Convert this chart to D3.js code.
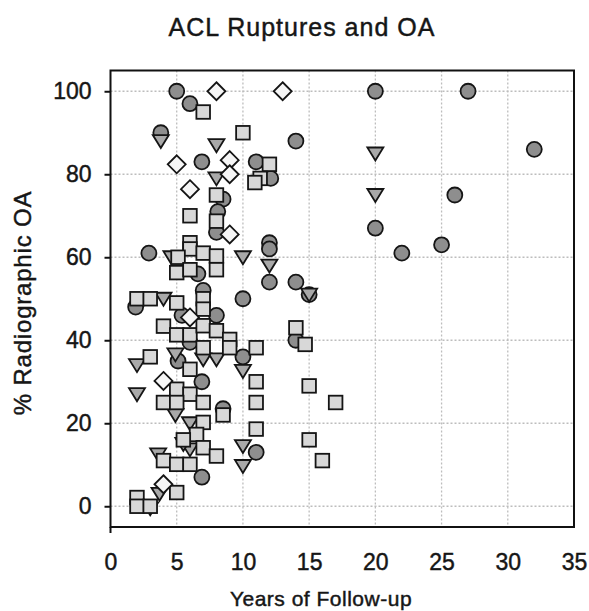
<!DOCTYPE html>
<html>
<head>
<meta charset="utf-8">
<script src="https://cdn.jsdelivr.net/npm/d3@7"></script>
<style>
  body { margin: 0; background: #fff; }
  text { font-family: "Liberation Sans", Arial, sans-serif; fill: #161616; stroke: #161616; stroke-width: 0.45px; }
</style>
</head>
<body>
<svg id="chart" width="589" height="611"></svg>
<script>
var width = 589
var height = 611

var xTicks = [0, 5, 10, 15, 20, 25, 30, 35]
var yTicks = [0, 20, 40, 60, 80, 100]

// [years of follow-up, % radiographic OA]
var circles = [
    [5, 100], [6, 97], [3.8, 90], [6.9, 83], [11, 83], [12.1, 79], [8.5, 74], [8.1, 71], [8, 66],
    [14, 88], [20, 100], [27, 100], [32, 86], [26, 75], [20, 67], [22, 61], [25, 63], [14, 54],
    [15, 51], [2.9, 61], [12, 63.5], [12, 62], [12, 54], [10, 50], [14, 40], [10, 36], [11, 13],
    [8.5, 23.5], [6.9, 30], [6.9, 7], [8, 46], [6.6, 56], [5.4, 46], [1.9, 48], [5.1, 35],
    [6, 39.5], [7, 52]
]
var triangles = [
    [3.8, 88], [8, 87], [8, 79], [12, 58], [10, 60], [20, 85], [20, 75], [15, 51], [4, 50],
    [4.6, 60], [2, 34], [2, 27], [4.9, 36.6], [7, 35.4], [8, 35.4], [10, 32.6], [10, 14.5],
    [10, 9.7], [6, 20], [4.9, 22], [6, 13.7], [5.5, 15], [3.6, 12.5], [3.7, 3], [3, -0.5]
]
var squares = [
    [7, 95], [10, 90], [12, 82.4], [11.3, 79], [10.9, 78], [8, 75], [6, 70], [8, 68.7],
    [6, 63.5], [6, 62], [7, 61], [8, 60.3], [5.1, 60], [5, 56.3], [6, 57], [8, 57], [7, 50],
    [7, 47.5], [2, 50], [3, 50], [5, 49], [4, 43.4], [5, 41.3], [6, 41.3], [7, 43.5], [8, 42.3],
    [9, 40.2], [9, 38.2], [7, 38.2], [11, 38.2], [14, 43], [14.7, 39], [3, 36], [6, 33], [11, 30],
    [15, 29], [11, 25], [17, 25], [11, 18.6], [15, 16], [16, 11], [5, 28.2], [6, 27], [7, 25],
    [4, 25], [5, 25], [8.5, 22], [7, 20.2], [6.5, 17.3], [5.5, 16], [7, 14.1], [8, 12.1],
    [4, 11], [5, 10.1], [6, 10.1], [5, 3.3], [2, 2.1], [2, 0], [3, 0]
]
var diamonds = [
    [8, 100], [13, 100], [5, 82.4], [6, 76.4], [9, 83.4], [9, 80], [9, 65.5], [6, 45.5],
    [4, 30.2], [4, 5.3]
]

var svg = d3.select("#chart")

var x = d3.scaleLinear()
    .domain([0, 35])
    .range([110.5, 574])

var y = d3.scaleLinear()
    .domain([-5, 105])
    .range([527, 70.5])

// dotted grid
svg.append("g")
    .selectAll("line")
    .data(xTicks.slice(1, -1))
    .join("line")
    .attr("x1", d => x(d)).attr("x2", d => x(d))
    .attr("y1", y(105)).attr("y2", y(-5))
    .attr("stroke", "#bdbdbd")
    .attr("stroke-width", 1.3)
    .attr("stroke-dasharray", "2,2")

svg.append("g")
    .selectAll("line")
    .data(yTicks)
    .join("line")
    .attr("x1", x(0)).attr("x2", x(35))
    .attr("y1", d => y(d)).attr("y2", d => y(d))
    .attr("stroke", "#bdbdbd")
    .attr("stroke-width", 1.3)
    .attr("stroke-dasharray", "2,2")

// markers
var stroke = "#151515"
var sw = 1.8

svg.append("g")
    .selectAll("circle")
    .data(circles)
    .join("circle")
    .attr("cx", d => x(d[0]))
    .attr("cy", d => y(d[1]))
    .attr("r", 7.5)
    .attr("fill", "#8e8e8e")
    .attr("stroke", stroke)
    .attr("stroke-width", sw)

svg.append("g")
    .selectAll("path")
    .data(triangles)
    .join("path")
    .attr("d", function (d) {
        var cx = x(d[0]), cy = y(d[1])
        return "M" + (cx - 8) + "," + (cy - 6) + "L" + (cx + 8) + "," + (cy - 6) + "L" + cx + "," + (cy + 7) + "Z"
    })
    .attr("fill", "#a9a9a9")
    .attr("stroke", stroke)
    .attr("stroke-width", sw)
    .attr("stroke-linejoin", "miter")

svg.append("g")
    .selectAll("rect")
    .data(squares)
    .join("rect")
    .attr("x", d => x(d[0]) - 6.8)
    .attr("y", d => y(d[1]) - 6.8)
    .attr("width", 13.6)
    .attr("height", 13.6)
    .attr("fill", "#d8d8d8")
    .attr("stroke", stroke)
    .attr("stroke-width", sw)

svg.append("g")
    .selectAll("path")
    .data(diamonds)
    .join("path")
    .attr("d", function (d) {
        var cx = x(d[0]), cy = y(d[1])
        return "M" + cx + "," + (cy - 9) + "L" + (cx + 9) + "," + cy + "L" + cx + "," + (cy + 9) + "L" + (cx - 9) + "," + cy + "Z"
    })
    .attr("fill", "#f6f6f6")
    .attr("stroke", stroke)
    .attr("stroke-width", sw)

// frame
svg.append("rect")
    .attr("x", x(0)).attr("y", y(105))
    .attr("width", x(35) - x(0))
    .attr("height", y(-5) - y(105))
    .attr("fill", "none")
    .attr("stroke", "#111")
    .attr("stroke-width", 2)

// y axis (ticks outside), line runs a bit below the frame
var yAxis = svg.append("g")
    .attr("transform", "translate(" + x(0) + ",0)")
    .call(d3.axisLeft(y).tickValues(yTicks).tickSize(6).tickPadding(13))
yAxis.select(".domain").remove()
yAxis.selectAll("line").attr("stroke", "#111").attr("stroke-width", 2)
yAxis.selectAll("text").style("font-size", "23px").attr("fill", "#161616")

svg.append("line")
    .attr("x1", x(0)).attr("x2", x(0))
    .attr("y1", y(-5)).attr("y2", y(-5) + 6)
    .attr("stroke", "#111").attr("stroke-width", 2)

var xAxis = svg.append("g")
    .attr("transform", "translate(0," + y(-5) + ")")
    .call(d3.axisBottom(x).tickValues(xTicks).tickSize(0).tickPadding(27))
xAxis.select(".domain").remove()
xAxis.selectAll("text").style("font-size", "23px").attr("fill", "#161616")

// titles
svg.append("text")
    .attr("x", 302).attr("y", 36)
    .attr("text-anchor", "middle")
    .style("font-size", "25px")
    .style("letter-spacing", "1px")
    .text("ACL Ruptures and OA")

svg.append("text")
    .attr("x", 321).attr("y", 606)
    .attr("text-anchor", "middle")
    .style("font-size", "21px")
    .style("letter-spacing", "0.5px")
    .text("Years of Follow-up")

svg.append("text")
    .attr("transform", "translate(31,303) rotate(-90)")
    .attr("text-anchor", "middle")
    .style("font-size", "24px")
    .style("letter-spacing", "0.8px")
    .text("% Radiographic OA")
</script>
</body>
</html>
